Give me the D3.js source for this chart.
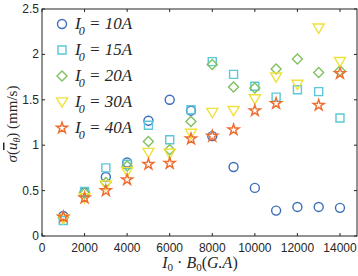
<!DOCTYPE html>
<html>
<head>
<meta charset="utf-8">
<script src="https://cdn.jsdelivr.net/npm/d3@7"></script>
<style>
body { margin: 0; background: #fff; }
svg { display: block; }
.tick-label { font-family: "Liberation Sans", Arial, sans-serif; font-size: 12px; fill: #262626; }
.math { font-family: "Liberation Serif", "Times New Roman", serif; fill: #262626; }
</style>
</head>
<body>
<svg width="358" height="276"></svg>
<script>
// data
var ib = [1000, 2000, 3000, 4000, 5000, 6000, 7000, 8000, 9000, 10000, 11000, 12000, 13000, 14000];
var i10 = [0.22, 0.48, 0.65, 0.81, 1.27, 1.50, 1.38, 1.10, 0.76, 0.53, 0.28, 0.32, 0.32, 0.31];
var i15 = [0.17, 0.49, 0.75, 0.79, 1.22, 1.06, 1.39, 1.92, 1.78, 1.65, 1.53, 1.61, 1.59, 1.30];
var i20 = [0.20, 0.47, 0.59, 0.77, 1.04, 0.95, 1.26, 1.89, 1.64, 1.63, 1.84, 1.95, 1.80, 1.82];
var i30 = [0.19, 0.42, 0.56, 0.71, 0.92, 0.91, 1.13, 1.36, 1.38, 1.51, 1.75, 1.67, 2.29, 1.92];
var i40 = [0.21, 0.42, 0.50, 0.62, 0.79, 0.80, 1.07, 1.10, 1.17, 1.38, 1.46, null, 1.44, 1.79];
var seriesNames = ["10A", "15A", "20A", "30A", "40A"];
var xTicks = [0, 2000, 4000, 6000, 8000, 10000, 12000, 14000];
var yTicks = [0, 0.5, 1, 1.5, 2, 2.5];

var svg = d3.select("svg"),
  m = {left: 42, top: 9, right: 357, bottom: 236};

var x = d3.scaleLinear().domain([0, 14800]).range([m.left, m.right]);
var y = d3.scaleLinear().domain([0, 2.5]).range([m.bottom, m.top]);

// marker shapes
function circle(s) { var r = s / 2; return "M" + r + ",0A" + r + "," + r + " 0 1,1 " + (-r) + ",0A" + r + "," + r + " 0 1,1 " + r + ",0Z"; }
function square(s) { var h = s / 2; return "M" + (-h) + "," + (-h) + "H" + h + "V" + h + "H" + (-h) + "Z"; }
function diamond(s) { var h = s / 2; return "M0," + (-h) + "L" + h + ",0L0," + h + "L" + (-h) + ",0Z"; }
function tri(s) { var h = s / 2; return "M" + (-h) + "," + (-h * 0.75) + "H" + h + "L0," + (h * 0.95) + "Z"; }
var star = d3.symbol().type(d3.symbolStar).size(38)();

var series = [
  {name: seriesNames[0], vals: i10, color: "#3c6fb8", path: circle(9)},
  {name: seriesNames[1], vals: i15, color: "#5cc7d9", path: square(8)},
  {name: seriesNames[2], vals: i20, color: "#80c25f", path: diamond(10)},
  {name: seriesNames[3], vals: i30, color: "#eee23a", path: tri(11)},
  {name: seriesNames[4], vals: i40, color: "#ef6c2e", path: star}
];

// box
svg.append("rect")
  .attr("x", m.left).attr("y", m.top)
  .attr("width", m.right - m.left).attr("height", m.bottom - m.top)
  .attr("fill", "none").attr("stroke", "#262626").attr("stroke-width", 1);

// ticks inward on all sides
xTicks.forEach(function(t) {
  svg.append("line").attr("x1", x(t)).attr("x2", x(t)).attr("y1", m.bottom).attr("y2", m.bottom - 3).attr("stroke", "#262626");
  svg.append("line").attr("x1", x(t)).attr("x2", x(t)).attr("y1", m.top).attr("y2", m.top + 3).attr("stroke", "#262626");
  svg.append("text").attr("class", "tick-label")
    .attr("x", x(t)).attr("y", 252).attr("text-anchor", "middle").text(t);
});
yTicks.forEach(function(t) {
  svg.append("line").attr("x1", m.left).attr("x2", m.left + 3).attr("y1", y(t)).attr("y2", y(t)).attr("stroke", "#262626");
  svg.append("line").attr("x1", m.right).attr("x2", m.right - 3).attr("y1", y(t)).attr("y2", y(t)).attr("stroke", "#262626");
  svg.append("text").attr("class", "tick-label")
    .attr("x", 39).attr("y", y(t) + 4).attr("text-anchor", "end").text(t);
});

// points
series.forEach(function(s) {
  var pts = ib.map(function(v, i) { return {x: v, y: s.vals[i]}; })
    .filter(function(d) { return d.y != null; });
  svg.append("g").selectAll("path")
    .data(pts).enter().append("path")
    .attr("d", s.path)
    .attr("transform", function(d) { return "translate(" + x(d.x) + "," + y(d.y) + ")"; })
    .attr("fill", "none")
    .attr("stroke", s.color)
    .attr("stroke-width", 1.4);
});

// legend
series.forEach(function(s, i) {
  var ly = 24 + i * 26;
  svg.append("path").attr("d", s.path)
    .attr("transform", "translate(62," + ly + ")")
    .attr("fill", "none").attr("stroke", s.color).attr("stroke-width", 1.4);
  var t = svg.append("text").attr("class", "math")
    .attr("x", 75).attr("y", ly + 5)
    .attr("font-size", 17).attr("font-style", "italic");
  t.append("tspan").text("I");
  t.append("tspan").attr("dx", -2).attr("dy", 6).attr("font-size", 12).text("0");
  t.append("tspan").attr("dy", -6).text(" = " + s.name);
});

// x label
var xl = svg.append("text").attr("class", "math")
  .attr("x", 200).attr("y", 268).attr("text-anchor", "middle").attr("font-size", 16);
xl.append("tspan").attr("font-style", "italic").text("I");
xl.append("tspan").attr("dy", 3).attr("font-size", 11).text("0");
xl.append("tspan").attr("dy", -3).text(" · ");
xl.append("tspan").attr("font-style", "italic").text("B");
xl.append("tspan").attr("dy", 3).attr("font-size", 11).text("0");
xl.append("tspan").attr("dy", -3).text("(");
xl.append("tspan").attr("font-style", "italic").text("G.A");
xl.append("tspan").text(")");

// y label
var yl = svg.append("text").attr("class", "math")
  .attr("transform", "translate(17,124) rotate(-90)")
  .attr("text-anchor", "middle").attr("font-size", 15);
yl.append("tspan").attr("font-style", "italic").text("σ");
yl.append("tspan").text("(");
yl.append("tspan").attr("font-style", "italic").attr("text-decoration", "overline").text("u");
yl.append("tspan").attr("dy", 3).attr("font-size", 10).attr("font-style", "italic").text("θ");
yl.append("tspan").attr("dy", -3).text(") (mm/s)");
</script>
</body>
</html>
